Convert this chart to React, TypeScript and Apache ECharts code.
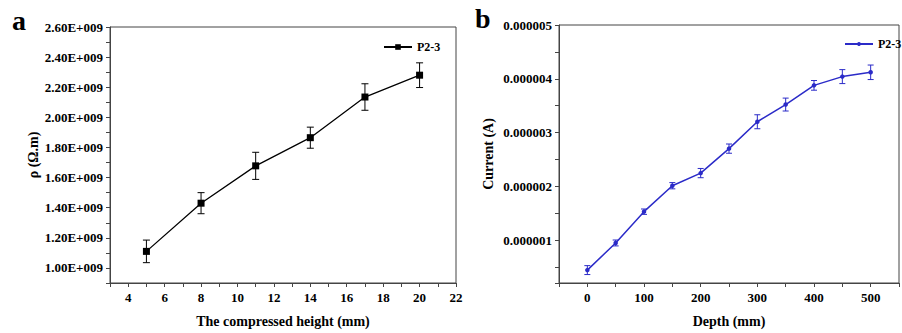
import React, { useEffect, useRef } from 'react';
import * as echarts from 'echarts';

const heightMm = [5, 8, 11, 14, 17, 20];
const resistivity = [1.11e9, 1.43e9, 1.678e9, 1.865e9, 2.135e9, 2.28e9];
const resistivityErr = [0.075e9, 0.07e9, 0.09e9, 0.07e9, 0.088e9, 0.082e9];

const depthMm = [0, 50, 100, 150, 200, 250, 300, 350, 400, 450, 500];
const current = [0.44e-6, 0.945e-6, 1.527e-6, 2.01e-6, 2.245e-6, 2.7e-6, 3.2e-6, 3.52e-6, 3.877e-6, 4.04e-6, 4.12e-6];
const currentErr = [0.083e-6, 0.055e-6, 0.05e-6, 0.058e-6, 0.086e-6, 0.086e-6, 0.13e-6, 0.12e-6, 0.09e-6, 0.13e-6, 0.135e-6];

const FONT = "'Liberation Serif', 'Times New Roman', serif";
const AXIS = '#444';
const BLUE = '#2b2bc8';

function errorSeries(xs: number[], ys: number[], errs: number[], idx: number, color: string, cap: number) {
  return {
    type: 'custom',
    xAxisIndex: idx,
    yAxisIndex: idx,
    silent: true,
    z: 1,
    data: xs.map((x, i) => [x, ys[i] - errs[i], ys[i] + errs[i]]),
    encode: { x: 0, y: [1, 2] },
    renderItem: (params: any, api: any) => {
      const x = api.value(0);
      const lo = api.coord([x, api.value(1)]);
      const hi = api.coord([x, api.value(2)]);
      const style = { stroke: color, lineWidth: 1 };
      return {
        type: 'group',
        children: [
          { type: 'line', shape: { x1: lo[0], y1: lo[1], x2: hi[0], y2: hi[1] }, style },
          { type: 'line', shape: { x1: lo[0] - cap, y1: lo[1], x2: lo[0] + cap, y2: lo[1] }, style },
          { type: 'line', shape: { x1: hi[0] - cap, y1: hi[1], x2: hi[0] + cap, y2: hi[1] }, style },
        ],
      };
    },
  };
}

const labelStyle = { fontFamily: FONT, fontWeight: 'bold' as const, fontSize: 13, color: '#000' };
const legendText = { fontFamily: FONT, fontWeight: 'bold' as const, fontSize: 12, color: '#000' };
const nameStyle = { fontFamily: FONT, fontWeight: 'bold' as const, fontSize: 14, color: '#000' };
const axisLine = { show: true, onZero: false, lineStyle: { color: AXIS, width: 1 } };
const axisTick = { show: true, inside: false, length: 4, lineStyle: { color: AXIS } };

export default function App() {
  const ref = useRef<HTMLDivElement>(null);
  useEffect(() => {
    document.body.style.margin = '0';
    const chart = echarts.init(ref.current!, undefined, { renderer: 'svg' });
    chart.setOption({
      animation: false,
      backgroundColor: '#fff',
      grid: [
        { left: 110, top: 27, width: 346, height: 257, show: true, borderColor: AXIS, borderWidth: 1, backgroundColor: 'transparent' },
        { left: 559, top: 25, width: 353, height: 261, show: true, borderColor: AXIS, borderWidth: 1, backgroundColor: 'transparent' },
      ],
      xAxis: [
        {
          type: 'value', gridIndex: 0, min: 3, max: 22, interval: 1,
          name: 'The compressed height (mm)', nameLocation: 'middle', nameGap: 31, nameTextStyle: nameStyle,
          axisLine, axisTick, splitLine: { show: false },
          axisLabel: { ...labelStyle, margin: 8, formatter: (v: number) => (v % 2 === 0 ? String(v) : '') },
        },
        {
          type: 'value', gridIndex: 1, min: -50, max: 550, interval: 50,
          name: 'Depth (mm)', nameLocation: 'middle', nameGap: 31, nameTextStyle: nameStyle,
          axisLine, axisTick, splitLine: { show: false },
          axisLabel: { ...labelStyle, margin: 8, formatter: (v: number) => (v % 100 === 0 && v >= 0 && v <= 500 ? String(v) : '') },
        },
      ],
      yAxis: [
        {
          type: 'value', gridIndex: 0, min: 0.9e9, max: 2.6e9, interval: 0.1e9,
          name: 'ρ (Ω.m)', nameLocation: 'middle', nameGap: 64, nameTextStyle: nameStyle,
          axisLine, axisTick, splitLine: { show: false },
          axisLabel: {
            ...labelStyle, margin: 7,
            formatter: (v: number) => {
              const k = Math.round(v / 1e8);
              return k % 2 === 0 ? (k / 10).toFixed(2) + 'E+009' : '';
            },
          },
        },
        {
          type: 'value', gridIndex: 1, min: 0.2e-6, max: 5e-6, splitNumber: 10,
          name: 'Current (A)', nameLocation: 'middle', nameGap: 64, nameTextStyle: nameStyle,
          axisLine, axisTick, splitLine: { show: false },
          axisLabel: {
            ...labelStyle, margin: 7,
            formatter: (v: number) => {
              const m = v * 1e6;
              return Math.abs(m - Math.round(m)) < 1e-3 ? (Math.round(m) / 1e6).toFixed(6) : '';
            },
          },
        },
      ],
      legend: [
        {
          data: ['P2-3'], left: 383, top: 41, itemWidth: 28, itemHeight: 7, padding: 0,
          textStyle: legendText, itemGap: 4, selectedMode: false,
        },
        {
          data: ['P2-3 b'], left: 844, top: 38, itemWidth: 28, itemHeight: 5, padding: 0,
          formatter: () => 'P2-3',
          textStyle: legendText, itemGap: 4, selectedMode: false,
        },
      ],
      graphic: [
        { type: 'text', left: 12, top: 6, style: { text: 'a', font: `bold 28px ${FONT}`, fill: '#000' } },
        { type: 'text', left: 475, top: 4, style: { text: 'b', font: `bold 28px ${FONT}`, fill: '#000' } },
      ],
      series: [
        errorSeries(heightMm, resistivity, resistivityErr, 0, '#000', 3.5),
        {
          type: 'line', name: 'P2-3', xAxisIndex: 0, yAxisIndex: 0,
          data: heightMm.map((x, i) => [x, resistivity[i]]),
          symbol: 'rect', symbolSize: 7, color: '#000',
          lineStyle: { color: '#000', width: 1.3 }, itemStyle: { color: '#000' }, z: 3,
        },
        errorSeries(depthMm, current, currentErr, 1, BLUE, 3),
        {
          type: 'line', name: 'P2-3 b', xAxisIndex: 1, yAxisIndex: 1,
          data: depthMm.map((x, i) => [x, current[i]]),
          symbol: 'circle', symbolSize: 4.5, color: BLUE,
          lineStyle: { color: BLUE, width: 1.5 }, itemStyle: { color: BLUE }, z: 3,
        },
      ],
    });
    return () => chart.dispose();
  }, []);
  return <div ref={ref} style={{ width: 902, height: 333, position: 'absolute', left: 0, top: 0 }} />;
}
